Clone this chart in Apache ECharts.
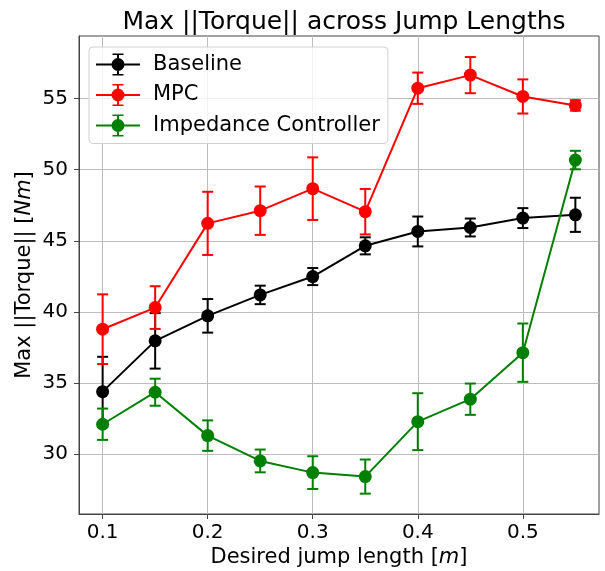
<!DOCTYPE html>
<html>
<head>
<meta charset="utf-8">
<script src="https://cdn.jsdelivr.net/npm/echarts@6/dist/echarts.min.js"></script>
<style>
html,body{margin:0;padding:0;background:#fff;}
#chart{width:605px;height:571px;}
</style>
</head>
<body>
<div id="chart"></div>
<script>
// ---- data ----
const jumpLengths = [0.1, 0.15, 0.2, 0.25, 0.3, 0.35, 0.4, 0.45, 0.5, 0.55];
const baselineMean = [34.4, 37.97, 39.73, 41.2, 42.49, 44.65, 45.66, 45.94, 46.6, 46.83];
const baselineErr  = [2.45, 1.95, 1.18, 0.65, 0.6, 0.6, 1.05, 0.63, 0.7, 1.2];
const mpcMean = [38.79, 40.31, 46.23, 47.12, 48.67, 47.05, 55.73, 56.65, 55.15, 54.52];
const mpcErr  = [2.45, 1.5, 2.22, 1.7, 2.2, 1.6, 1.1, 1.27, 1.2, 0.37];
const impMean = [32.11, 34.36, 31.31, 29.53, 28.71, 28.43, 32.29, 33.87, 37.14, 50.68];
const impErr  = [1.1, 0.95, 1.07, 0.8, 1.15, 1.2, 2.0, 1.1, 2.05, 0.65];
const xTicks = [0.1, 0.2, 0.3, 0.4, 0.5];
const yTicks = [30, 35, 40, 45, 50, 55];
const seriesNames = ['Baseline', 'MPC', 'Impedance Controller'];
const seriesColors = ['#000000', '#ff0000', '#008000'];
const titleText = 'Max ||Torque|| across Jump Lengths';

const FONT = 'DejaVu Sans';
const means = [baselineMean, mpcMean, impMean];
const errs = [baselineErr, mpcErr, impErr];

const legendIcon = 'path://M0,10 L44,10 L44,12 L0,12 Z M28.5,11 A6.5,6.5 0 1,1 15.5,11 A6.5,6.5 0 1,1 28.5,11 Z M21,0 L23,0 L23,22 L21,22 Z M16.5,0 L27.5,0 L27.5,1.6 L16.5,1.6 Z M16.5,20.4 L27.5,20.4 L27.5,22 L16.5,22 Z';

function errSeries(i) {
  const col = seriesColors[i];
  return {
    type: 'custom',
    name: seriesNames[i] + ' err',
    data: jumpLengths.map((x, k) => [x, means[i][k] - errs[i][k], means[i][k] + errs[i][k]]),
    encode: {x: 0, y: [1, 2]},
    renderItem: function (params, api) {
      const x = api.value(0);
      const lo = api.coord([x, api.value(1)]);
      const hi = api.coord([x, api.value(2)]);
      const hw = 5.5;
      const style = {stroke: col, lineWidth: 2};
      return {
        type: 'group',
        children: [
          {type: 'line', shape: {x1: lo[0], y1: lo[1], x2: hi[0], y2: hi[1]}, style: style},
          {type: 'line', shape: {x1: lo[0] - hw, y1: lo[1], x2: lo[0] + hw, y2: lo[1]}, style: style},
          {type: 'line', shape: {x1: hi[0] - hw, y1: hi[1], x2: hi[0] + hw, y2: hi[1]}, style: style}
        ]
      };
    },
    silent: true,
    clip: false
  };
}
function lineSeries(i) {
  return {
    type: 'line',
    name: seriesNames[i],
    data: jumpLengths.map((x, k) => [x, means[i][k]]),
    symbol: 'circle',
    symbolSize: 13,
    lineStyle: {color: seriesColors[i], width: 2},
    itemStyle: {color: seriesColors[i]},
    emphasis: {disabled: true},
    animation: false
  };
}

const series = [];
for (let i = 0; i < 3; i++) { series.push(errSeries(i)); series.push(lineSeries(i)); }

const chart = echarts.init(document.getElementById('chart'), null, {renderer: 'canvas'});
chart.setOption({
  animation: false,
  backgroundColor: '#ffffff',
  textStyle: {fontFamily: FONT},
  title: {
    text: titleText,
    left: 339, top: 5, textAlign: 'center',
    textStyle: {fontFamily: FONT, fontSize: 25, fontWeight: 'normal', color: '#000'}
  },
  grid: {left: 79, top: 36, right: 6, bottom: 57, containLabel: false, outerBoundsMode: 'none',
    show: true, borderColor: '#444', borderWidth: 1, backgroundColor: 'transparent'},
  legend: {
    orient: 'vertical',
    left: 89, top: 47,
    padding: [6.5, 8, 7, 7],
    itemWidth: 44, itemHeight: 22, itemGap: 8.5,
    backgroundColor: 'rgba(255,255,255,0.8)',
    borderColor: '#d0d0d0', borderWidth: 1, borderRadius: 4,
    textStyle: {fontFamily: FONT, fontSize: 21, color: '#000', padding: [0, 0, 0, 8]},
    data: seriesNames.map((n, i) => ({name: n, icon: legendIcon, itemStyle: {color: seriesColors[i]}})),
    selectedMode: false
  },
  xAxis: {
    type: 'value',
    min: 0.0775, max: 0.5725,
    name: '{a|Desired jump length [}{b|m}{a|]}',
    nameLocation: 'middle', nameGap: 33, nameMoveOverlap: false,
    nameTextStyle: {rich: {a: {fontFamily: FONT, fontSize: 21, color: '#000'}, b: {fontFamily: FONT, fontSize: 21, fontStyle: 'italic', color: '#000'}}},
    axisLine: {show: true, onZero: false, lineStyle: {color: '#444', width: 1}},
    axisTick: {show: true, length: 5, lineStyle: {color: '#444'}, customValues: xTicks},
    axisLabel: {fontFamily: FONT, fontSize: 20, color: '#000', margin: 9, customValues: xTicks,
      formatter: v => (Math.round(v * 10) / 10).toFixed(1)},
    splitLine: {show: true, lineStyle: {color: '#bdbdbd', width: 1}}
  },
  yAxis: {
    type: 'value',
    min: 25.8, max: 59.4,
    name: '{a|Max ||Torque|| [}{b|Nm}{a|]}',
    nameLocation: 'middle', nameGap: 44, nameRotate: 90, nameMoveOverlap: false,
    nameTextStyle: {rich: {a: {fontFamily: FONT, fontSize: 21, color: '#000'}, b: {fontFamily: FONT, fontSize: 21, fontStyle: 'italic', color: '#000'}}},
    axisLine: {show: true, onZero: false, lineStyle: {color: '#444', width: 1}},
    axisTick: {show: true, length: 5, lineStyle: {color: '#444'}, customValues: yTicks},
    axisLabel: {fontFamily: FONT, fontSize: 20, color: '#000', margin: 11, customValues: yTicks},
    splitLine: {show: true, lineStyle: {color: '#bdbdbd', width: 1}}
  },
  series: series
});
</script>
</body>
</html>
